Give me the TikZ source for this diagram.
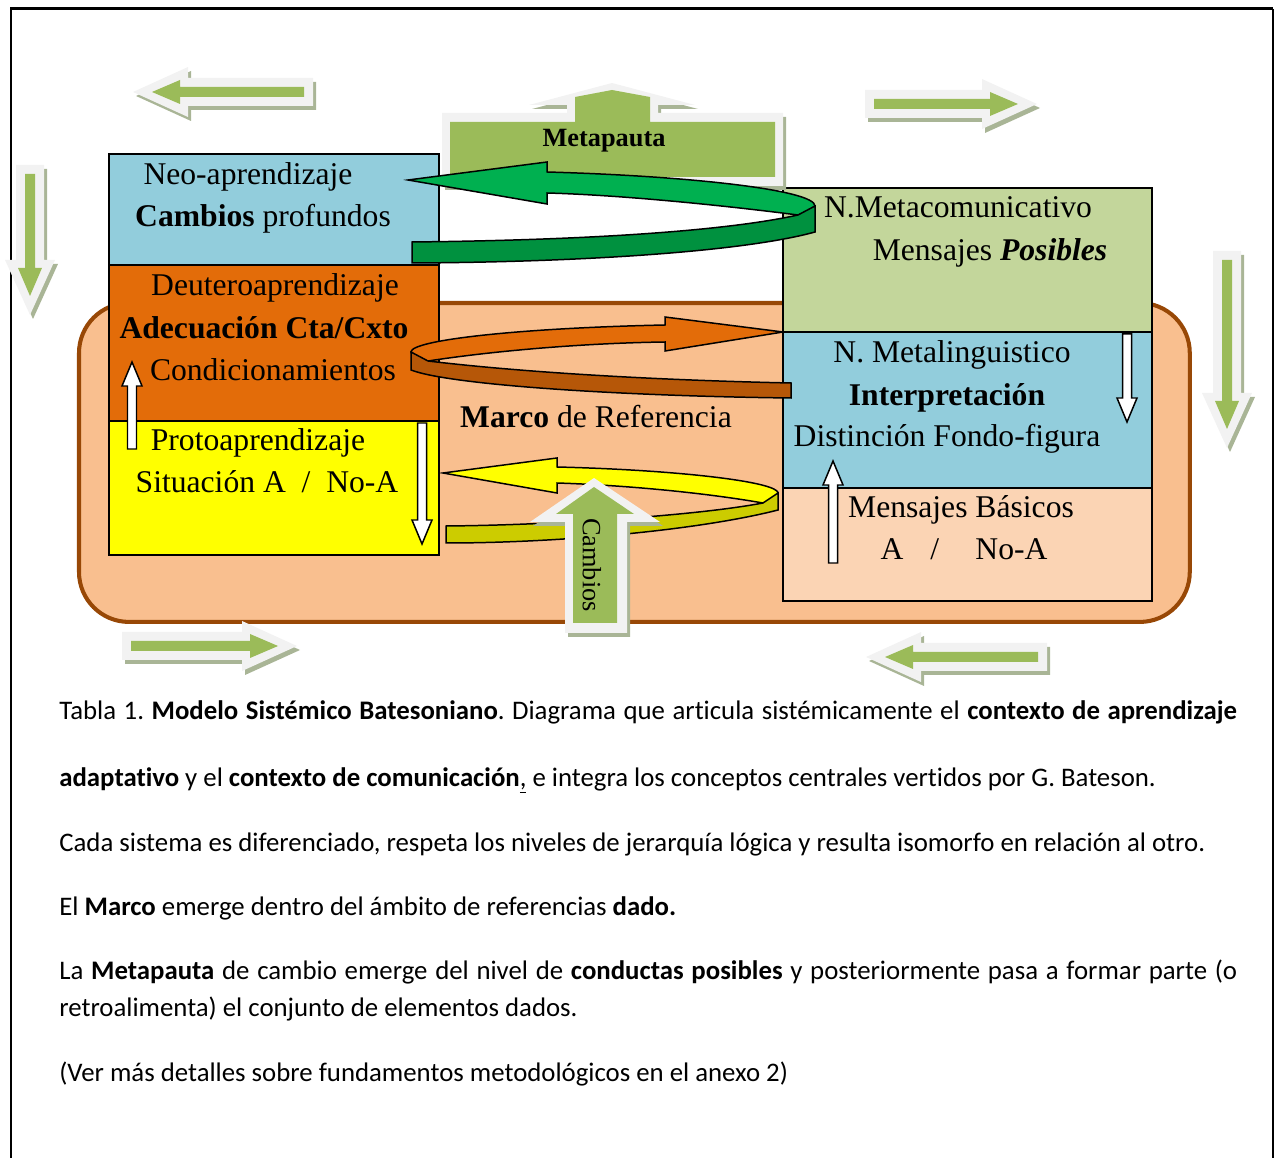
\documentclass[tikz,border=0pt]{standalone}
\usepackage{fontspec}
\setmainfont{Liberation Serif}
\newfontfamily\capfont[Ligatures=NoCommon]{Carlito}
\usetikzlibrary{positioning}
\definecolor{marcofill}{HTML}{F9BF8F}
\definecolor{marcoline}{HTML}{984806}
\definecolor{neoblue}{HTML}{92CDDC}
\definecolor{deuteroorange}{HTML}{E36C09}
\definecolor{protoyellow}{HTML}{FFFF00}
\definecolor{metagreen}{HTML}{C3D69B}
\definecolor{basicpeach}{HTML}{FBD4B4}
\definecolor{spiralgreen}{HTML}{00B050}
\definecolor{spiraldark}{HTML}{00913F}
\definecolor{spiralbrown}{HTML}{B65708}
\definecolor{spiralolive}{HTML}{CCCC00}
\definecolor{decogreen}{HTML}{9BBB59}
\definecolor{decowhite}{HTML}{F2F2F2}
\definecolor{decoshadow}{HTML}{A9B596}

\tikzset{lbox/.style={draw, line width=1.1pt, rectangle, minimum width=6.6cm, outer sep=0pt, inner sep=0pt},
	rbox/.style={draw, line width=1.1pt, rectangle, minimum width=7.38cm, outer sep=0pt, inner sep=0pt},
	boxtext/.style={anchor=base, inner sep=0pt, font=\fontsize{18}{22}\selectfont},
	captext/.style={anchor=base west, inner sep=0pt, font=\capfont\fontsize{15.25}{18}\selectfont\frenchspacing},
	spiral/.style={draw=black, line width=0.85pt},
	wharrow/.style={draw=black, fill=white, line width=0.85pt}}

% decorative block arrow: tail x, tail y, angle, length
\newcommand{\decoarrow}[4]{%
	\begin{scope}[shift={(#1+3,#2+4)},rotate=#3]
		\fill[decoshadow] (0,-14) -- ({#4-55},-14) -- ({#4-55},-25) -- (#4,0) -- ({#4-55},25) -- ({#4-55},14) -- (0,14) -- cycle;
	\end{scope}
	\begin{scope}[shift={(#1,#2)},rotate=#3]
		\fill[decowhite] (0,-14) -- ({#4-55},-14) -- ({#4-55},-25) -- (#4,0) -- ({#4-55},25) -- ({#4-55},14) -- (0,14) -- cycle;
		\fill[decogreen] (9,-5) -- ({#4-47},-5) -- ({#4-47},-12) -- ({#4-19},0) -- ({#4-47},12) -- ({#4-47},5) -- (9,5) -- cycle;
	\end{scope}}
% small white arrow: x, tail y, tip y, direction (1 down, -1 up)
\newcommand{\whitearrow}[4]{%
	\draw[wharrow] ({#1-4.5},#2) -- ({#1-4.5},{#3-24*#4}) -- ({#1-10},{#3-24*#4}) -- (#1,#3) -- ({#1+10},{#3-24*#4}) -- ({#1+4.5},{#3-24*#4}) -- ({#1+4.5},#2) -- cycle;}

\begin{document}
\begin{tikzpicture}[x=0.02cm, y=-0.02cm]
	\useasboundingbox (0,0) rectangle (1275,1158);
	\draw[line width=1.7pt] (11,1158) -- (11,9) -- (1273,9);
	\draw[line width=1.2pt] (1273,9) -- (1273,1158);

	% marco de referencia
	\node[draw=marcoline, fill=marcofill, line width=2.3pt, rounded corners=1cm, minimum width=22.22cm, minimum height=6.38cm, anchor=north west, outer sep=0pt] (marco) at (79,303) {};

	% aprendizaje
	\node[lbox, fill=neoblue, minimum height=2.22cm, anchor=north west] (neo) at (109,154) {};
	\node[lbox, fill=deuteroorange, minimum height=3.12cm, below=0pt of neo] (deutero) {};
	\node[lbox, fill=protoyellow, minimum height=2.68cm, below=0pt of deutero] (proto) {};

	% comunicacion
	\node[rbox, fill=metagreen, minimum height=2.88cm, anchor=north west] (metacom) at (783,188) {};
	\node[rbox, fill=neoblue, minimum height=3.12cm, below=0pt of metacom] (metaling) {};
	\node[rbox, fill=basicpeach, minimum height=2.26cm, below=0pt of metaling] (basicos) {};

	% metapauta
	\fill[decoshadow, shift={(3,4)}] (442,186) -- (442,113) -- (567,113) -- (567,105) -- (529,105) -- (612,83) -- (695,105) -- (658,105) -- (658,113) -- (783,113) -- (783,186) -- cycle;
	\fill[decowhite] (442,186) -- (442,113) -- (567,113) -- (567,105) -- (529,105) -- (612,83) -- (695,105) -- (658,105) -- (658,113) -- (783,113) -- (783,186) -- cycle;
	\fill[decogreen] (450,177) -- (450,122) -- (575,122) -- (575,97) -- (612,90) -- (650,97) -- (650,122) -- (775,122) -- (775,177) -- cycle;
	\node[anchor=base, inner sep=0pt, font=\fontsize{15}{18}\selectfont\bfseries] (metapauta) at (604,147) {Metapauta};

	% spirals
	\path[spiral, fill=spiralgreen] (408,180) -- (547,162) -- (547,172) .. controls (690,176) and (815,190) .. (815,206) .. controls (815,210) and (806,213) .. (798,215) .. controls (720,205) and (620,195) .. (547,193) -- (547,204) -- cycle;
	\path[spiral, fill=spiraldark] (412,242) .. controls (600,240) and (730,230) .. (798,215) -- (815,206) -- (815,232) .. controls (750,250) and (600,262) .. (412,263) -- cycle;

	\path[spiral, fill=deuteroorange] (783,332) -- (665,317) -- (665,325) .. controls (520,328) and (411,340) .. (411,352) .. controls (411,356) and (420,360) .. (428,361) .. controls (500,350) and (590,343) .. (665,342) -- (665,351) -- cycle;
	\path[spiral, fill=spiralbrown] (411,352) -- (428,361) .. controls (520,372) and (650,380) .. (791,383) -- (791,398) .. controls (620,396) and (450,385) .. (411,370) -- cycle;

	\path[spiral, fill=protoyellow] (443,473) -- (557,458) -- (557,467) .. controls (680,470) and (778,482) .. (778,493) .. controls (778,497) and (770,501) .. (763,503) .. controls (700,492) and (620,485) .. (557,483) -- (557,493) -- cycle;
	\path[spiral, fill=spiralolive] (763,503) -- (778,493) -- (778,510) .. controls (700,530) and (560,543) .. (446,543) -- (446,526) .. controls (560,525) and (700,515) .. (763,503) -- cycle;

	% cambios
	\fill[decoshadow, shift={(3,4)}] (565,633) -- (565,522) -- (530,522) -- (594,478) -- (660,522) -- (627,522) -- (627,633) -- cycle;
	\fill[decowhite] (565,633) -- (565,522) -- (530,522) -- (594,478) -- (660,522) -- (627,522) -- (627,633) -- cycle;
	\fill[decogreen] (573,623) -- (573,514) -- (556,514) -- (594,487) -- (634,514) -- (617,514) -- (617,623) -- cycle;
	\node[rotate=-90, inner sep=0pt, font=\fontsize{15}{18}\selectfont] (cambios) at (592,565) {Cambios};

	% small arrows
	\whitearrow{132}{449}{362}{-1}
	\whitearrow{422}{423}{544}{1}
	\whitearrow{1127}{334}{422}{1}
	\whitearrow{833}{563}{461}{-1}

	% outer arrows
	\decoarrow{313}{92}{180}{180}
	\decoarrow{30}{165}{-90}{150}
	\decoarrow{865}{104}{0}{172}
	\decoarrow{1227}{251}{-90}{197}
	\decoarrow{122}{646}{0}{175}
	\decoarrow{1047}{657}{180}{181}

	% texts
	\node[boxtext] (neo1) at (248,185) {Neo-aprendizaje};
	\node[boxtext] (neo2) at (263,227) {\textbf{Cambios} profundos};
	\node[boxtext] (deu1) at (275,296) {Deuteroaprendizaje};
	\node[boxtext] (deu2) at (264,339) {\textbf{Adecuación Cta/Cxto}};
	\node[boxtext] (deu3) at (273,381) {Condicionamientos};
	\node[boxtext] (pro1) at (258,451) {Protoaprendizaje};
	\node[boxtext] (pro2) at (267,493) {Situación A\ \ /\ \ No-A};
	\node[boxtext] (met1) at (958,218) {N.Metacomunicativo};
	\node[boxtext] (met2) at (990,261) {Mensajes \textbf{\textit{Posibles}}};
	\node[boxtext] (lin1) at (952,363) {N. Metalinguistico};
	\node[boxtext] (lin2) at (947,406) {\textbf{Interpretación}};
	\node[boxtext] (lin3) at (947,447) {Distinción Fondo-figura};
	\node[boxtext] (bas1) at (961,518) {Mensajes Básicos};
	\node[boxtext] (bas2) at (964,560) {A\hspace{0.85em}/\hspace{1.15em}No-A};
	\node[boxtext] (marcotext) at (596,428) {\textbf{Marco} de Referencia};

	% caption
	\node[captext] (cap1) at (59,720) {\makebox[23.56cm][s]{Tabla 1. \textbf{Modelo Sistémico Batesoniano}. Diagrama que articula sistémicamente el \textbf{contexto de aprendizaje}}};
	\node[captext] (cap2) at (59,786) {\textbf{adaptativo} y el \textbf{contexto de comunicación}\underline{,} e integra los conceptos centrales vertidos por G. Bateson.};
	\node[captext] (cap3) at (59,851) {Cada sistema es diferenciado, respeta los niveles de jerarquía lógica y resulta isomorfo en relación al otro.};
	\node[captext] (cap4) at (59,915) {El \textbf{Marco} emerge dentro del ámbito de referencias \textbf{dado.}};
	\node[captext] (cap5) at (59,979) {\makebox[23.56cm][s]{La \textbf{Metapauta} de cambio emerge del nivel de \textbf{conductas posibles} y posteriormente pasa a formar parte (o}};
	\node[captext] (cap6) at (59,1016) {retroalimenta) el conjunto de elementos dados.};
	\node[captext] (cap7) at (59,1081) {(Ver más detalles sobre fundamentos metodológicos en el anexo 2)};
\end{tikzpicture}
\end{document}
